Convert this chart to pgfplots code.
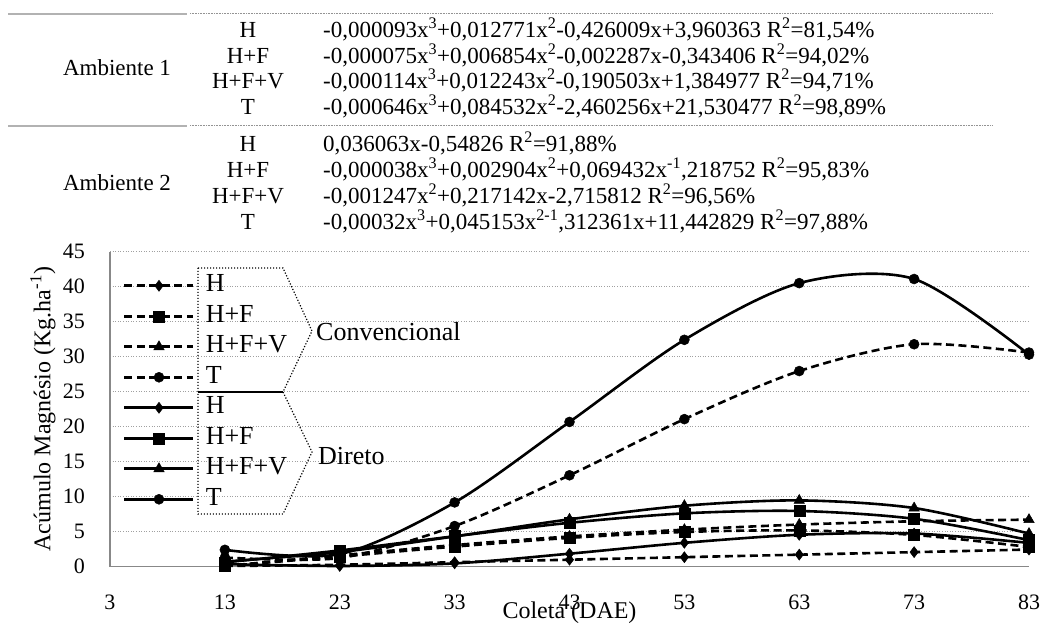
\documentclass[border=0pt]{standalone}
\usepackage{fontspec}
\setmainfont{Liberation Serif}
\usepackage{pgfplots}
\pgfplotsset{compat=1.18}
\definecolor{axisgray}{HTML}{888888}
\definecolor{gridgray}{HTML}{A0A0A0}
\begin{document}
\begin{tikzpicture}[x=1pt,y=1pt]
\useasboundingbox (0,0) rectangle (1042,629);
% ---- equation table ----
\draw[gray!60, line width=1.2pt] (8,615) -- (187,615);
\draw[gray!85, line width=1pt, dash pattern=on 0.8pt off 0.8pt] (190,615) -- (993,615);
\draw[gray!60, line width=1.2pt] (8,503) -- (187,503);
\draw[gray!85, line width=1pt, dash pattern=on 0.8pt off 0.8pt] (190,503) -- (993,503);
\begin{scope}[every node/.style={inner sep=0pt, font=\fontsize{23}{23}\selectfont}]
\node[anchor=base] at (117,553.4) {Ambiente 1};
\node[anchor=base] at (117,438.4) {Ambiente 2};
\node[anchor=base] at (248,591.4) {H};
\node[anchor=base] at (248,565.9) {H+F};
\node[anchor=base] at (248,540.4) {H+F+V};
\node[anchor=base] at (248,514.9) {T};
\node[anchor=base] at (248,477.4) {H};
\node[anchor=base] at (248,451.4) {H+F};
\node[anchor=base] at (248,425.4) {H+F+V};
\node[anchor=base] at (248,399.4) {T};
\node[anchor=base west] at (323,591.4) {-0,000093x\textsuperscript{3}+0,012771x\textsuperscript{2}-0,426009x+3,960363 R\textsuperscript{2}=81,54\%};
\node[anchor=base west] at (323,565.9) {-0,000075x\textsuperscript{3}+0,006854x\textsuperscript{2}-0,002287x-0,343406 R\textsuperscript{2}=94,02\%};
\node[anchor=base west] at (323,540.4) {-0,000114x\textsuperscript{3}+0,012243x\textsuperscript{2}-0,190503x+1,384977 R\textsuperscript{2}=94,71\%};
\node[anchor=base west] at (323,514.9) {-0,000646x\textsuperscript{3}+0,084532x\textsuperscript{2}-2,460256x+21,530477 R\textsuperscript{2}=98,89\%};
\node[anchor=base west] at (323,477.4) {0,036063x-0,54826 R\textsuperscript{2}=91,88\%};
\node[anchor=base west] at (323,451.4) {-0,000038x\textsuperscript{3}+0,002904x\textsuperscript{2}+0,069432x\textsuperscript{-1},218752 R\textsuperscript{2}=95,83\%};
\node[anchor=base west] at (323,425.4) {-0,001247x\textsuperscript{2}+0,217142x-2,715812 R\textsuperscript{2}=96,56\%};
\node[anchor=base west] at (323,399.4) {-0,00032x\textsuperscript{3}+0,045153x\textsuperscript{2-1},312361x+11,442829 R\textsuperscript{2}=97,88\%};
\end{scope}
% ---- chart ----
\begin{axis}[
  at={(110pt,62.3pt)}, anchor=south west,
  scale only axis, width=919pt, height=315pt,
  xmin=3, xmax=83, ymin=0, ymax=45,
  xtick={3,13,...,83}, ytick={0,5,...,45},
  axis lines*=left,
  axis line style={draw=axisgray, line width=1.5pt},
  major tick length=0pt,
  ymajorgrids,
  grid style={gridgray, line width=1pt, dash pattern=on 1pt off 1.6pt},
  tick label style={font=\fontsize{22}{22}\selectfont},
  /pgf/number format/assume math mode=true,
  xticklabel style={anchor=base, yshift=-42.5pt},
  yticklabel style={anchor=east, inner sep=0pt, xshift=-25pt},
  xlabel={Coleta (DAE)},
  ylabel={Acúmulo Magnésio (Kg.ha\textsuperscript{-1})},
  every axis x label/.style={at={(axis description cs:0.5,-0.166)}, anchor=base, font=\fontsize{24}{24}\selectfont},
  every axis y label/.style={at={(axis description cs:-0.0729,0.5)}, rotate=90, anchor=center, font=\fontsize{24}{24}\selectfont},
  clip=false,
  legend cell align=left,
  legend style={at={(0.01415,0.9305)}, anchor=north west, draw=none, fill=none,
    inner sep=0pt, row sep=6.5pt, column sep=11pt,
    nodes={inner sep=0pt, text height=18pt, text depth=6pt},
    font=\fontsize{26}{26}\selectfont},
  legend image code/.code={\draw[mark repeat=2,mark phase=2,#1] plot coordinates {(0pt,0pt) (34.5pt,0pt) (69pt,0pt)};},
  conv/.style={black, line width=2.6pt, dash pattern=on 8pt off 4.5pt, smooth, tension=0.5, mark options={solid, fill=black, line width=0.5pt}},
  dir/.style={black, line width=2.6pt, smooth, tension=0.5, mark options={solid, fill=black, line width=0.5pt}},
  dia/.style={mark=diamond*, mark size=5.5pt},
  sq/.style={mark=square*, mark size=5.5pt},
  tri/.style={mark=triangle*, mark size=6pt},
  cir/.style={mark=*, mark size=5pt},
]
% Convencional (dashed)
\addplot[conv, dia] coordinates {(13,0.1) (23,0.28) (33,0.64) (43,1.0) (53,1.36) (63,1.72) (73,2.08) (83,2.45)};
\addlegendentry{H}
\addplot[conv, sq] coordinates {(13,0.1) (23,1.45) (33,2.87) (43,4.12) (53,4.96) (63,5.18) (73,4.54) (83,2.82)};
\addlegendentry{H+F}
\addplot[conv, tri] coordinates {(13,0.1) (23,1.62) (33,3.09) (43,4.32) (53,5.29) (63,6.02) (73,6.49) (83,6.72)};
\addlegendentry{H+F+V}
\addplot[conv, cir] coordinates {(13,1.31) (23,1.25) (33,5.81) (43,13.06) (53,21.08) (63,27.95) (73,31.78) (83,30.59)};
\addlegendentry{T}
% Direto (solid)
\addplot[dir, dia] coordinates {(13,0.38) (23,0.1) (33,0.47) (43,1.86) (53,3.41) (63,4.56) (73,4.74) (83,3.40)};
\addlegendentry{H}
\addplot[dir, sq] coordinates {(13,0.62) (23,2.32) (33,4.35) (43,6.27) (53,7.62) (63,7.96) (73,6.84) (83,3.80)};
\addlegendentry{H+F}
\addplot[dir, tri] coordinates {(13,0.73) (23,2.09) (33,4.33) (43,6.77) (53,8.71) (63,9.47) (73,8.38) (83,4.73)};
\addlegendentry{H+F+V}
\addplot[dir, cir] coordinates {(13,2.41) (23,1.80) (33,9.18) (43,20.68) (53,32.41) (63,40.51) (73,41.10) (83,30.30)};
\addlegendentry{T}
\end{axis}
% ---- legend grouping outline ----
\draw[black, line width=1.2pt, dash pattern=on 1.2pt off 1.8pt]
  (198,361) -- (283,361) -- (312,298) -- (283,237) -- (312,177) -- (283,115) -- (198,115) -- cycle;
\draw[black, line width=1.5pt] (198,237) -- (283,237);
\node[anchor=base west, inner sep=0pt, font=\fontsize{26}{26}\selectfont] at (316,288.4) {Convencional};
\node[anchor=base west, inner sep=0pt, font=\fontsize{26}{26}\selectfont] at (318,164.4) {Direto};
\end{tikzpicture}
\end{document}
